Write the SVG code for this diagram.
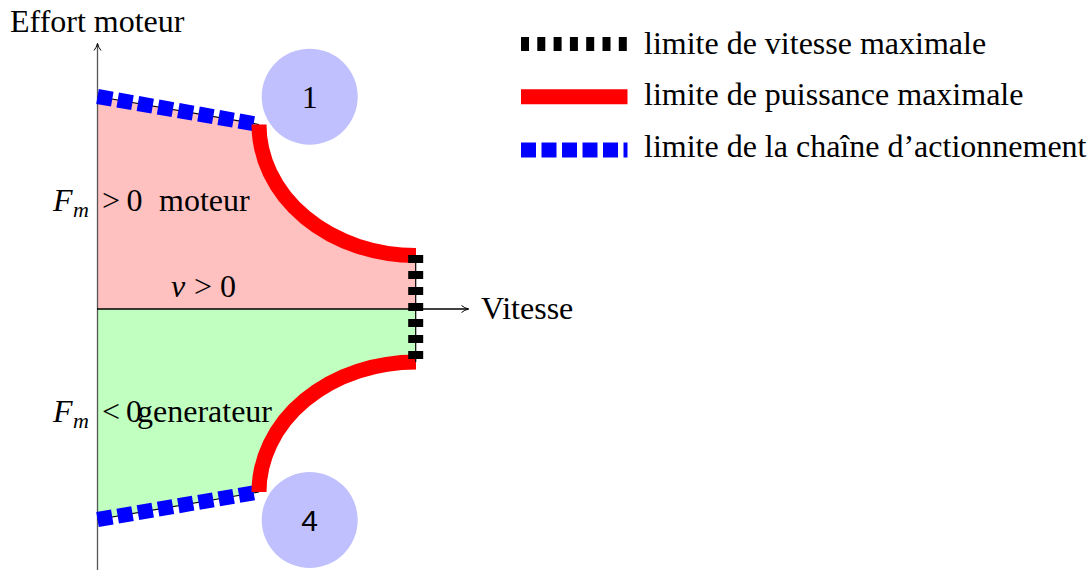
<svg xmlns="http://www.w3.org/2000/svg" width="1092" height="571" viewBox="0 0 1092 571">
<defs>
<style>
text{font-family:"Liberation Serif","Times New Roman",serif;font-size:32px;fill:#000}
.it{font-style:italic}
.sub{font-size:22px;font-style:italic}
.thin{stroke:#000;stroke-width:1.2;fill:none}
.blue{stroke:#0000ff;stroke-width:15;stroke-dasharray:15 5.5;fill:none}
.red{stroke:#ff0000;stroke-width:15;fill:none}
.black{stroke:#000;stroke-width:15;stroke-dasharray:8 8;fill:none}
.bubble{fill:#c0c0ff}
</style>
<marker id="arr" viewBox="0 0 10 10" refX="9" refY="5" markerWidth="10" markerHeight="10" markerUnits="userSpaceOnUse" orient="auto">
<path d="M2,1.5 Q5,4 9,5 Q5,6 2,8.5" fill="none" stroke="#000" stroke-width="1"/>
</marker>
</defs>
<g id="regions">
<path id="motor" d="M97.5,96.5 L259,124.5 A157,131 0 0 0 416,255.5 L416,309 L97.5,309 Z" fill="#ffc0c0"/>
<path id="gen" d="M97.5,309 L416,309 L416,362 A157,130 0 0 0 259,492 L97.5,519.5 Z" fill="#c0ffc0"/>
</g>
<g id="connectors">
<line x1="97.5" y1="570" x2="97.5" y2="43.5" stroke="#555" stroke-width="1.3" marker-end="url(#arr)"/>
<line x1="97" y1="309" x2="468.5" y2="309" stroke="#000" stroke-width="1.3" marker-end="url(#arr)"/>
<line class="thin" x1="97.5" y1="96.5" x2="259" y2="124.5"/>
<line class="blue" x1="97.5" y1="96.5" x2="259" y2="124.5"/>
<line class="thin" x1="97.5" y1="519.5" x2="259" y2="492"/>
<line class="blue" x1="97.5" y1="519.5" x2="259" y2="492"/>
<path class="red" d="M259,124.5 A157,131 0 0 0 416,255.5"/>
<path class="red" d="M416,362 A157,130 0 0 0 259,492"/>
<line class="thin" x1="415.7" y1="255" x2="415.7" y2="362"/>
<line class="black" x1="415.7" y1="255" x2="415.7" y2="362"/>
</g>
<g id="node1">
<circle class="bubble" cx="309.7" cy="96.7" r="48"/>
<text x="309.7" y="108" text-anchor="middle">1</text>
</g>
<g id="node4">
<circle class="bubble" cx="309.7" cy="520" r="48"/>
<text x="309.7" y="531" text-anchor="middle" style="font-family:'Liberation Sans',Arial,sans-serif;font-size:30px">4</text>
</g>
<g id="labels">
<text x="10" y="32">Effort moteur</text>
<text x="481" y="318.5">Vitesse</text>
<text class="it" x="53" y="211">F</text>
<text class="sub" x="73" y="217">m</text>
<text x="102" y="211">&gt;</text>
<text x="126.5" y="211">0</text>
<text x="159" y="211">moteur</text>
<text class="it" x="171" y="297">v</text>
<text x="194" y="297">&gt;</text>
<text x="220" y="297">0</text>
<text class="it" x="53" y="421.5">F</text>
<text class="sub" x="73" y="427.5">m</text>
<text x="102" y="421.5">&lt;</text>
<text x="126" y="421.5">0</text>
<text x="137" y="421.5">generateur</text>
</g>
<g id="legend">
<line class="black" x1="521" y1="44" x2="627" y2="44" style="stroke-width:14;stroke-dasharray:8 8.3"/>
<text x="644" y="53.5">limite de vitesse maximale</text>
<line class="red" x1="521" y1="96.7" x2="627.5" y2="96.7"/>
<text x="644" y="105">limite de puissance maximale</text>
<line class="blue" x1="521" y1="150" x2="627.5" y2="150"/>
<text x="644" y="157">limite de la chaîne d’actionnement</text>
</g>
</svg>
